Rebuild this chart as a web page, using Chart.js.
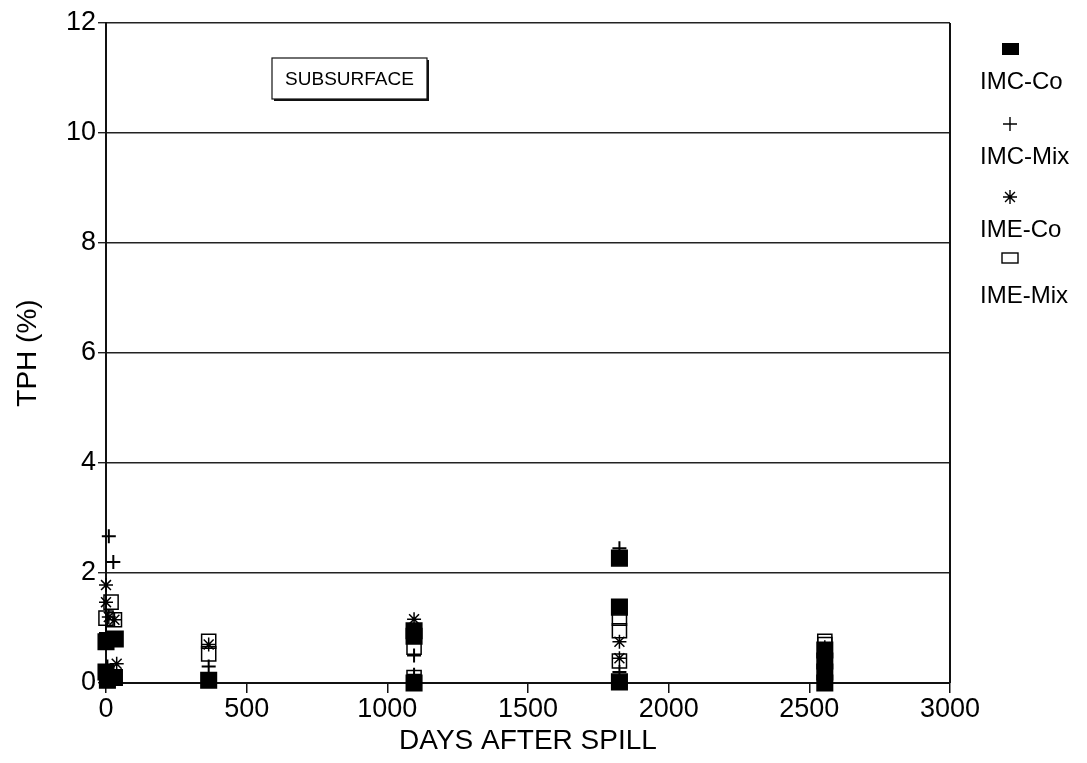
<!DOCTYPE html>
<html>
<head>
<meta charset="utf-8">
<script src="https://cdn.jsdelivr.net/npm/chart.js@4/dist/chart.umd.min.js"></script>
<style>
  html, body { margin: 0; padding: 0; background: #fff; }
  #wrap { width: 1087px; height: 763px; position: relative; }
</style>
</head>
<body>
<div id="wrap"><canvas id="grafico"></canvas></div>
<script>
// valores (dias após o derrame, TPH %)
const imcCoDias = [0, 5, 30, 0, 33, 365, 1095, 1095, 1095, 1825, 1825, 1825, 2555, 2555, 2555, 2555];
const imcCoTph  = [0.2, 0.05, 0.1, 0.75, 0.8, 0.05, 0.95, 0.85, 0.0, 2.27, 1.38, 0.02, 0.6, 0.4, 0.2, 0.0];

const imcMixDias = [10, 26, 0, 5, 365, 1095, 1095, 1825, 1825, 2555];
const imcMixTph  = [2.67, 2.2, 0.91, 0.3, 0.3, 0.5, 0.15, 2.45, 0.2, 0.5];

const imeCoDias = [0, 0, 10, 30, 38, 365, 1095, 1825, 1825, 2555];
const imeCoTph  = [1.78, 1.47, 1.2, 1.15, 0.35, 0.7, 1.16, 0.75, 0.45, 0.65];

const imeMixDias = [18, 0, 30, 365, 365, 1095, 1095, 1825, 1825, 1825, 2555, 2555];
const imeMixTph  = [1.47, 1.18, 1.15, 0.76, 0.53, 0.65, 0.1, 1.18, 0.95, 0.4, 0.76, 0.7];

const series = ['IMC-Co', 'IMC-Mix', 'IME-Co', 'IME-Mix'];
const ticksY = [0, 2, 4, 6, 8, 10, 12];
const ticksX = [0, 500, 1000, 1500, 2000, 2500, 3000];

const fonte = '"Liberation Sans", Arial, sans-serif';
const pares = (xs, ys) => xs.map((x, i) => ({ x: x, y: ys[i] }));

// caixa "SUBSURFACE" + bordas + legenda vertical à direita
const extras = {
  id: 'extras',
  afterDraw(chart) {
    const ctx = chart.ctx;
    const a = chart.chartArea;
    ctx.save();
    // borda direita
    ctx.strokeStyle = '#111';
    ctx.lineWidth = 2;
    ctx.beginPath();
    ctx.moveTo(a.right, a.top);
    ctx.lineTo(a.right, a.bottom);
    ctx.stroke();

    // caixa do título interno
    const bx = a.left + 166, by = a.top + 35, bw = 155, bh = 41;
    ctx.fillStyle = '#fff';
    ctx.fillRect(bx, by, bw, bh);
    ctx.lineWidth = 1.2;
    ctx.strokeRect(bx, by, bw, bh);
    ctx.lineWidth = 2;
    ctx.beginPath();
    ctx.moveTo(bx + bw + 1, by + 2);
    ctx.lineTo(bx + bw + 1, by + bh + 1);
    ctx.lineTo(bx + 2, by + bh + 1);
    ctx.stroke();
    ctx.fillStyle = '#000';
    ctx.font = '19px ' + fonte;
    ctx.textAlign = 'center';
    ctx.textBaseline = 'middle';
    ctx.fillText('SUBSURFACE', bx + bw / 2, by + bh / 2 + 1);

    // legenda
    const lx = 1010, tx = 980;
    const marcasY = [49, 124, 197, 258];
    const textoY = [82, 157, 230, 296];
    ctx.strokeStyle = '#000';
    ctx.lineWidth = 1.4;
    series.forEach((nome, i) => {
      const my = marcasY[i];
      if (i === 0) {
        ctx.fillRect(lx - 8, my - 6, 17, 12);
      } else if (i === 1) {
        ctx.beginPath();
        ctx.moveTo(lx - 7, my); ctx.lineTo(lx + 7, my);
        ctx.moveTo(lx, my - 7); ctx.lineTo(lx, my + 7);
        ctx.stroke();
      } else if (i === 2) {
        ctx.beginPath();
        for (let k = 0; k < 4; k++) {
          const ang = k * Math.PI / 4;
          ctx.moveTo(lx - 7 * Math.cos(ang), my - 7 * Math.sin(ang));
          ctx.lineTo(lx + 7 * Math.cos(ang), my + 7 * Math.sin(ang));
        }
        ctx.stroke();
      } else {
        ctx.strokeRect(lx - 8, my - 5, 16, 10);
      }
      ctx.font = '24px ' + fonte;
      ctx.textAlign = 'left';
      ctx.fillText(nome, tx, textoY[i]);
    });
    ctx.restore();
  }
};

const base = {
  borderColor: '#000',
  borderWidth: 1.5,
  clip: false
};

new Chart(document.getElementById('grafico'), {
  type: 'scatter',
  data: {
    datasets: [
      Object.assign({}, base, {
        label: series[0], data: pares(imcCoDias, imcCoTph),
        pointStyle: 'rect', pointRadius: 11, backgroundColor: '#000'
      }),
      Object.assign({}, base, {
        label: series[1], data: pares(imcMixDias, imcMixTph),
        pointStyle: 'cross', pointRadius: 7, backgroundColor: '#000', borderWidth: 2
      }),
      Object.assign({}, base, {
        label: series[2], data: pares(imeCoDias, imeCoTph),
        pointStyle: 'star', pointRadius: 7, backgroundColor: '#000'
      }),
      Object.assign({}, base, {
        label: series[3], data: pares(imeMixDias, imeMixTph),
        pointStyle: 'rect', pointRadius: 10, backgroundColor: 'rgba(0,0,0,0)'
      })
    ]
  },
  options: {
    responsive: true,
    maintainAspectRatio: false,
    animation: false,
    events: [],
    layout: { padding: { top: 23, right: 137, left: 0, bottom: 0 } },
    plugins: {
      legend: { display: false },
      tooltip: { enabled: false }
    },
    scales: {
      x: {
        type: 'linear',
        min: ticksX[0],
        max: ticksX[ticksX.length - 1],
        afterBuildTicks: s => { s.ticks = ticksX.map(v => ({ value: v })); },
        afterFit: s => { s.height = 80; },
        ticks: {
          color: '#000', font: { family: fonte, size: 27 }, padding: 0, maxRotation: 0,
          callback: v => String(v)
        },
        grid: { drawOnChartArea: false, drawTicks: true, tickLength: 10, color: '#111', lineWidth: 1.5 },
        border: { color: '#111', width: 2 },
        title: {
          display: true, text: 'DAYS AFTER SPILL', color: '#000',
          font: { family: fonte, size: 28 }, padding: { top: 0, bottom: 5 }
        }
      },
      y: {
        min: ticksY[0],
        max: ticksY[ticksY.length - 1],
        afterBuildTicks: s => { s.ticks = ticksY.map(v => ({ value: v })); },
        afterFit: s => { s.width = 106; },
        ticks: { color: '#000', font: { family: fonte, size: 27 }, padding: 2, callback: v => String(v) },
        grid: { color: '#222', lineWidth: 1.4, tickLength: 8 },
        border: { color: '#111', width: 2 },
        title: {
          display: true, text: 'TPH (%)', color: '#000',
          font: { family: fonte, size: 28 }, padding: { top: 11, bottom: 0 }
        }
      }
    }
  },
  plugins: [extras]
});
</script>
</body>
</html>
